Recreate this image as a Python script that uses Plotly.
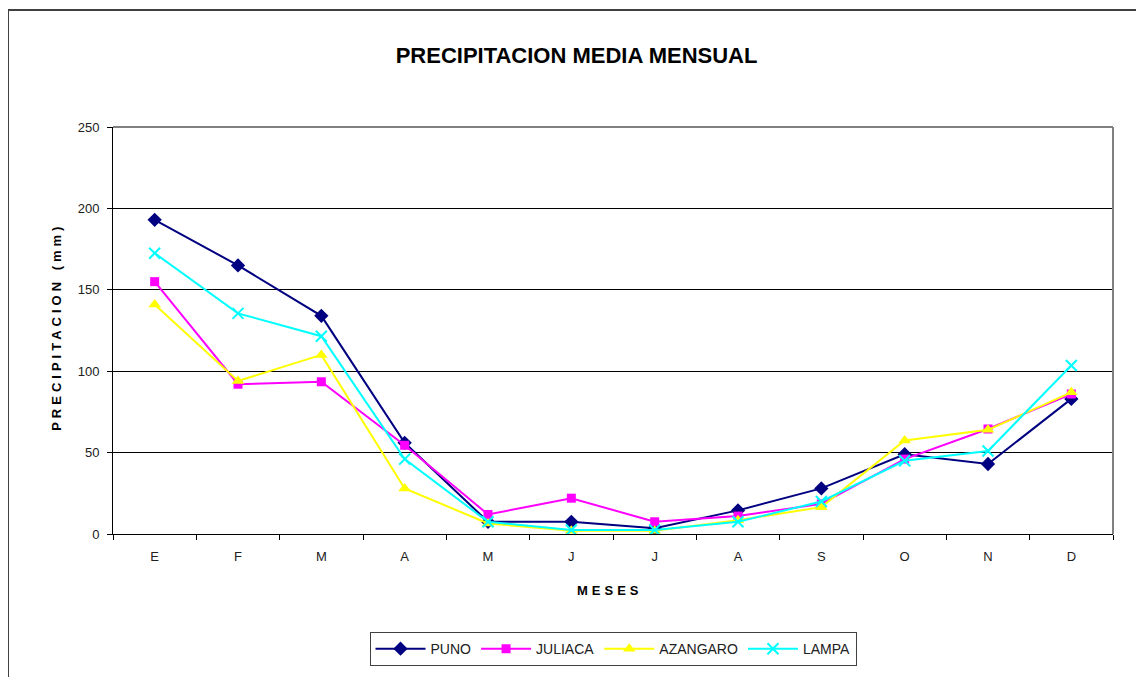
import plotly.graph_objects as go

MESES = ["E", "F", "M", "A", "M", "J", "J", "A", "S", "O", "N", "D"]
PUNO = [193, 165, 134, 56, 7.5, 7.5, 3.5, 14.5, 28, 49, 43, 83]
JULIACA = [155, 92, 93.5, 54.5, 12, 22, 7.5, 11, 18.5, 46, 64.5, 86]
AZANGARO = [141, 94, 110, 28, 6.5, 2, 2, 8.5, 16.5, 57.5, 64, 87]
LAMPA = [172.5, 135.5, 121.5, 46, 7.5, 2.5, 2.5, 7.5, 20, 45, 51, 103.5]

YTICKS = [0, 50, 100, 150, 200, 250]

FONT = "Liberation Sans, Arial, sans-serif"
x = list(range(len(MESES)))

fig = go.Figure()
series = [
    ("PUNO", PUNO, "#000080", "diamond", 11, 0),
    ("JULIACA", JULIACA, "#FF00FF", "square", 9, 0),
    ("AZANGARO", AZANGARO, "#FFFF00", "triangle-up", 11, 0),
    ("LAMPA", LAMPA, "#00FFFF", "x-thin", 11, 2),
]
for name, vals, color, sym, size, lw in series:
    marker = dict(symbol=sym, size=size, color=color)
    if lw:
        marker["line"] = dict(color=color, width=lw)
    fig.add_trace(go.Scatter(
        x=x, y=vals, name=name, mode="lines+markers",
        line=dict(color=color, width=2), marker=marker,
    ))

fig.update_layout(
    width=1144, height=677,
    margin=dict(l=105, r=39, t=119, b=151),
    paper_bgcolor="white", plot_bgcolor="white",
    font=dict(family=FONT, size=12, color="black"),
    title=dict(text="<b>PRECIPITACION MEDIA MENSUAL</b>", x=0.497, xanchor="center",
               y=1 - 47 / 677, yanchor="middle",
               font=dict(family=FONT, size=22, color="black")),
    showlegend=True,
    legend=dict(orientation="h", x=0.5, xanchor="center", y=-0.241, yanchor="top",
                bordercolor="#404040", borderwidth=1, bgcolor="white",
                font=dict(family=FONT, size=14, color="#202020"),
                itemwidth=50, tracegroupgap=0),
)

fig.update_xaxes(
    range=[-0.5, len(MESES) - 0.5],
    tickmode="array", tickvals=x, ticktext=MESES, ticks="",
    tickfont=dict(family=FONT, size=13, color="#202020"),
    ticklabelstandoff=10,
    showgrid=False, zeroline=False,
    showline=True, linecolor="black", linewidth=1,
    minor=dict(tick0=-0.5, dtick=1, ticks="outside", ticklen=5, tickcolor="black",
               showgrid=False),
)
fig.update_yaxes(
    range=[0, 250], tickmode="array", tickvals=YTICKS,
    ticks="outside", ticklen=5, tickcolor="black",
    tickfont=dict(family=FONT, size=13, color="#202020"),
    ticklabelstandoff=5,
    showgrid=True, gridcolor="black", gridwidth=1, zeroline=False,
    showline=True, linecolor="black", linewidth=1,
)

# plot-area top/right border (gray)
fig.add_shape(type="line", xref="paper", yref="paper", x0=0, x1=1, y0=1, y1=1,
              line=dict(color="#808080", width=2), layer="above")
fig.add_shape(type="line", xref="paper", yref="paper", x0=1, x1=1, y0=0, y1=1,
              line=dict(color="#808080", width=2), layer="above")
# chart-area border (left and top)
fig.add_shape(type="line", xref="paper", yref="paper", x0=-0.105, x1=-0.105, y0=-0.4, y1=1.2875,
              line=dict(color="#404040", width=2), layer="above")
fig.add_shape(type="line", xref="paper", yref="paper", x0=-0.105, x1=1.1, y0=1.2875, y1=1.2875,
              line=dict(color="#404040", width=2), layer="above")

fig.add_annotation(text='<b><span style="letter-spacing:4px">PRECIPITACION (mm)</span></b>',
                   xref="paper", yref="paper", x=-0.056, y=0.509, textangle=-90,
                   showarrow=False, xanchor="center", yanchor="middle",
                   font=dict(family=FONT, size=13, color="black"))
fig.add_annotation(text='<b><span style="letter-spacing:4px">MESES</span></b>',
                   xref="paper", yref="paper", x=0.497, y=-0.1376,
                   showarrow=False, xanchor="center", yanchor="middle",
                   font=dict(family=FONT, size=13, color="black"))

fig.write_html("out.html")
